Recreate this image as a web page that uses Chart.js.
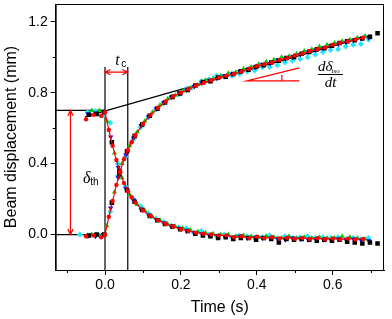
<!DOCTYPE html>
<html>
<head>
<meta charset="utf-8">
<script src="https://cdn.jsdelivr.net/npm/chart.js@4.4.1/dist/chart.umd.min.js"></script>
<style>
html, body { margin: 0; padding: 0; background: #fff; }
#wrap { width: 392px; height: 319px; }
</style>
</head>
<body>
<div id="wrap"><canvas id="myChart"></canvas></div>
<script>
// times (s) of each run, with the rising and falling displacement (mm)
let tBlack = [-0.042, -0.022, -0.002, 0.018, 0.038, 0.058, 0.078, 0.098, 0.118, 0.138, 0.158, 0.178, 0.198, 0.218, 0.238, 0.258, 0.278, 0.298, 0.318, 0.338, 0.358, 0.378, 0.398, 0.418, 0.438, 0.458, 0.478, 0.498, 0.518, 0.538, 0.558, 0.578, 0.598, 0.618, 0.638, 0.658, 0.678, 0.698, 0.718];
let riseBlack = [-0.005, 0.0, 0.0, 0.18, 0.34, 0.47, 0.555, 0.62, 0.67, 0.71, 0.745, 0.775, 0.795, 0.815, 0.84, 0.86, 0.865, 0.885, 0.89, 0.905, 0.92, 0.93, 0.945, 0.955, 0.97, 0.98, 0.995, 1.0, 1.02, 1.03, 1.045, 1.05, 1.065, 1.08, 1.09, 1.095, 1.105, 1.115, 1.135];
let fallBlack = [0.675, 0.68, 0.69, 0.52, 0.36, 0.25, 0.185, 0.14, 0.105, 0.08, 0.06, 0.045, 0.03, 0.02, 0.005, -0.005, -0.01, -0.02, -0.015, -0.025, -0.02, -0.02, -0.03, -0.02, -0.025, -0.045, -0.025, -0.03, -0.025, -0.03, -0.035, -0.03, -0.035, -0.03, -0.04, -0.045, -0.05, -0.045, -0.05];

let tRed = [-0.05, -0.03, -0.01, 0.0, 0.01, 0.02, 0.03, 0.04, 0.05, 0.06, 0.07, 0.08, 0.10, 0.12, 0.14, 0.16, 0.18, 0.20, 0.22, 0.24, 0.26, 0.28, 0.30, 0.32, 0.34, 0.36, 0.38, 0.40, 0.42, 0.44, 0.46, 0.48, 0.50, 0.52, 0.54, 0.56, 0.58, 0.60, 0.62, 0.64, 0.66, 0.68];
let riseRed = [-0.01, -0.005, -0.015, 0.0, 0.10, 0.19, 0.28, 0.355, 0.425, 0.475, 0.52, 0.56, 0.625, 0.675, 0.715, 0.75, 0.78, 0.80, 0.82, 0.84, 0.855, 0.87, 0.885, 0.895, 0.905, 0.92, 0.935, 0.95, 0.96, 0.97, 0.985, 0.995, 1.01, 1.02, 1.035, 1.045, 1.055, 1.07, 1.08, 1.09, 1.10, 1.11];
let fallRed = [0.65, 0.675, 0.67, 0.69, 0.59, 0.50, 0.42, 0.35, 0.29, 0.245, 0.21, 0.18, 0.135, 0.105, 0.08, 0.06, 0.045, 0.03, 0.02, 0.01, 0.005, 0.0, -0.005, -0.005, -0.015, -0.01, -0.02, -0.012, -0.02, -0.015, -0.022, -0.018, -0.024, -0.019, -0.025, -0.02, -0.026, -0.022, -0.027, -0.023, -0.028, -0.025];

let tBlue = [-0.045, -0.025, -0.005, 0.015, 0.035, 0.055, 0.075, 0.095, 0.115, 0.135, 0.155, 0.175, 0.195, 0.215, 0.235, 0.255, 0.275, 0.295, 0.315, 0.335, 0.355, 0.375, 0.395, 0.415, 0.435, 0.455, 0.475, 0.495, 0.515, 0.535, 0.555, 0.575, 0.595, 0.615, 0.635, 0.655, 0.675, 0.695];
let riseBlue = [-0.008, -0.01, 0.0, 0.15, 0.32, 0.45, 0.545, 0.615, 0.665, 0.71, 0.745, 0.775, 0.80, 0.815, 0.835, 0.855, 0.87, 0.88, 0.895, 0.905, 0.92, 0.93, 0.945, 0.96, 0.965, 0.985, 0.99, 1.005, 1.015, 1.03, 1.04, 1.05, 1.065, 1.075, 1.085, 1.095, 1.105, 1.11];
let fallBlue = [0.68, 0.685, 0.695, 0.55, 0.38, 0.26, 0.195, 0.14, 0.11, 0.085, 0.065, 0.045, 0.035, 0.02, 0.01, 0.005, -0.005, -0.005, -0.01, -0.015, -0.01, -0.02, -0.015, -0.02, -0.02, -0.025, -0.03, -0.02, -0.025, -0.03, -0.025, -0.03, -0.03, -0.025, -0.03, -0.025, -0.03, -0.035];

let tGreen = [-0.035, -0.015, 0.005, 0.025, 0.045, 0.065, 0.085, 0.105, 0.125, 0.145, 0.165, 0.185, 0.205, 0.225, 0.245, 0.265, 0.285, 0.305, 0.325, 0.345, 0.365, 0.385, 0.405, 0.425, 0.445, 0.465, 0.485, 0.505, 0.525, 0.545, 0.565, 0.585, 0.605, 0.625, 0.645, 0.665, 0.685];
let riseGreen = [0.0, -0.005, 0.05, 0.24, 0.40, 0.50, 0.58, 0.64, 0.69, 0.73, 0.765, 0.785, 0.81, 0.825, 0.845, 0.87, 0.88, 0.895, 0.91, 0.915, 0.935, 0.945, 0.96, 0.975, 0.985, 1.0, 1.005, 1.02, 1.035, 1.045, 1.06, 1.07, 1.08, 1.09, 1.10, 1.11, 1.12];
let fallGreen = [0.70, 0.70, 0.64, 0.46, 0.32, 0.225, 0.17, 0.135, 0.10, 0.08, 0.06, 0.045, 0.035, 0.025, 0.015, 0.01, 0.005, 0.0, 0.0, -0.01, -0.005, -0.01, -0.015, -0.01, -0.015, -0.02, -0.01, -0.02, -0.015, -0.02, -0.015, -0.02, -0.02, -0.01, -0.015, -0.02, -0.025];

let tCyan = [-0.066, -0.046, -0.026, -0.006, 0.014, 0.034, 0.054, 0.074, 0.094, 0.114, 0.134, 0.154, 0.174, 0.194, 0.214, 0.234, 0.254, 0.274, 0.294, 0.314, 0.334, 0.354, 0.374, 0.394, 0.414, 0.434, 0.454, 0.474, 0.494, 0.514, 0.534, 0.554, 0.574, 0.594, 0.614, 0.634, 0.654, 0.674, 0.694];
let riseCyan = [0.0, -0.005, -0.005, 0.0, 0.13, 0.33, 0.44, 0.535, 0.605, 0.66, 0.705, 0.74, 0.775, 0.79, 0.82, 0.835, 0.865, 0.875, 0.895, 0.89, 0.895, 0.905, 0.92, 0.925, 0.945, 0.945, 0.955, 0.97, 0.98, 0.99, 1.0, 1.015, 1.03, 1.04, 1.045, 1.06, 1.07, 1.075, 1.1];
let fallCyan = [null, 0.69, 0.695, 0.67, 0.63, 0.40, 0.27, 0.20, 0.16, 0.12, 0.09, 0.07, 0.05, 0.04, 0.035, 0.01, 0.02, 0.0, -0.01, 0.0, -0.015, -0.005, -0.01, -0.02, -0.015, -0.005, -0.02, -0.01, -0.02, -0.015, -0.01, -0.02, -0.015, -0.02, -0.015, -0.025, -0.02, -0.03, -0.02];

let xTicks = [0, 0.2, 0.4, 0.6];
let xMinor = [-0.1, 0.1, 0.3, 0.5, 0.7];
let yTicks = [0, 0.4, 0.8, 1.2];
let yMinor = [0.2, 0.6, 1.0];

// construction lines, in data units
let tangentLine = [[-0.052, 0.665], [0.70, 1.123]];
let levelLines = [[[-0.2, 0.70], [0, 0.70]], [[-0.2, 0], [0, 0]]];
let tcTimes = [0, 0.06];
let tcTop = 0.945;
let tcArrow = [[0, 0.916], [0.06, 0.916]];
let thArrow = [[-0.091, 0.70], [-0.091, 0]];
let slopeTri = [[0.3735, 0.866], [0.512, 0.866], [0.512, 0.94]];
let slopeMark = [[0.466, 0.866], [0.466, 0.90]];

function pts(t, y) {
    let out = [];
    for (let i = 0; i < t.length; i++) {
        if (y[i] !== null) out.push({ x: t[i], y: y[i] });
    }
    return out;
}

function marks(data, color, style, r, rot) {
    return {
        data: data,
        showLine: false,
        pointStyle: style,
        pointRadius: r,
        pointRotation: rot || 0,
        pointBackgroundColor: color,
        pointBorderColor: color,
        pointBorderWidth: 0
    };
}

function redLine(data) {
    let d = marks(data, '#ff0000', 'circle', 2.2);
    d.showLine = true;
    d.borderColor = '#ff0000';
    d.borderWidth = 1.2;
    d.segment = { borderColor: c => c.p0.parsed.x < 0 ? 'rgba(0,0,0,0)' : '#ff0000' };
    return d;
}

let green = '#00cc00';
let cyan = '#22e6ff';

let annotations = {
    id: 'annotations',
    beforeDatasetsDraw(chart) {
        let ctx = chart.ctx, xs = chart.scales.x, ys = chart.scales.y, a = chart.chartArea;
        let X = v => xs.getPixelForValue(v), Y = v => ys.getPixelForValue(v);
        ctx.save();
        ctx.beginPath();
        ctx.rect(a.left, a.top, a.right - a.left, a.bottom - a.top);
        ctx.clip();
        ctx.strokeStyle = '#000';
        ctx.lineWidth = 1.2;
        ctx.beginPath();
        ctx.moveTo(X(tangentLine[0][0]), Y(tangentLine[0][1]));
        ctx.lineTo(X(tangentLine[1][0]), Y(tangentLine[1][1]));
        levelLines.forEach(l => {
            ctx.moveTo(X(l[0][0]), Y(l[0][1]));
            ctx.lineTo(X(l[1][0]), Y(l[1][1]));
        });
        tcTimes.forEach(t => {
            ctx.moveTo(X(t), Y(tcTop));
            ctx.lineTo(X(t), a.bottom);
        });
        ctx.stroke();
        ctx.restore();
    },
    afterDatasetsDraw(chart) {
        let ctx = chart.ctx, xs = chart.scales.x, ys = chart.scales.y, a = chart.chartArea;
        let X = v => xs.getPixelForValue(v), Y = v => ys.getPixelForValue(v);
        ctx.save();
        // frame
        ctx.strokeStyle = '#000';
        ctx.lineWidth = 1;
        ctx.strokeRect(a.left + 0.5, a.top + 0.5, a.right - a.left - 1, a.bottom - a.top);
        // minor ticks
        ctx.beginPath();
        xMinor.forEach(v => { ctx.moveTo(Math.round(X(v)) + 0.5, a.bottom); ctx.lineTo(Math.round(X(v)) + 0.5, a.bottom + 3); });
        yMinor.forEach(v => { ctx.moveTo(a.left, Math.round(Y(v)) + 0.5); ctx.lineTo(a.left - 3, Math.round(Y(v)) + 0.5); });
        ctx.stroke();

        // red double arrows
        ctx.strokeStyle = '#ff0000';
        ctx.lineWidth = 1.2;
        function arrow(p, q) {
            let x1 = X(p[0]), y1 = Y(p[1]), x2 = X(q[0]), y2 = Y(q[1]);
            ctx.beginPath();
            ctx.moveTo(x1, y1); ctx.lineTo(x2, y2);
            let ang = Math.atan2(y2 - y1, x2 - x1), L = 6, w = 0.45;
            [[x1, y1, ang], [x2, y2, ang + Math.PI]].forEach(h => {
                ctx.moveTo(h[0] + L * Math.cos(h[2] - w), h[1] + L * Math.sin(h[2] - w));
                ctx.lineTo(h[0], h[1]);
                ctx.lineTo(h[0] + L * Math.cos(h[2] + w), h[1] + L * Math.sin(h[2] + w));
            });
            ctx.stroke();
        }
        arrow(tcArrow[0], tcArrow[1]);
        arrow(thArrow[0], thArrow[1]);

        // slope triangle
        ctx.beginPath();
        ctx.moveTo(X(slopeTri[1][0]), Y(slopeTri[1][1]));
        ctx.lineTo(X(slopeTri[0][0]), Y(slopeTri[0][1]));
        ctx.lineTo(X(slopeTri[2][0]), Y(slopeTri[2][1]));
        ctx.moveTo(X(slopeMark[0][0]), Y(slopeMark[0][1]));
        ctx.lineTo(X(slopeMark[1][0]), Y(slopeMark[1][1]));
        ctx.stroke();

        // labels
        ctx.fillStyle = '#000';
        ctx.textBaseline = 'alphabetic';
        ctx.textAlign = 'left';
        ctx.font = 'italic 16px "Liberation Serif"';
        ctx.fillText('t', X(0.027), Y(0.955));
        ctx.font = '10px "Liberation Sans"';
        ctx.fillText('c', X(0.043), Y(0.944));

        ctx.font = 'italic 16px "Liberation Serif"';
        ctx.fillText('\u03b4', X(-0.058), Y(0.29));
        ctx.font = '10px "Liberation Sans"';
        ctx.fillText('th', X(-0.039), Y(0.28));

        ctx.font = 'italic 15px "Liberation Serif"';
        ctx.fillText('d\u03b4', X(0.561), Y(0.922));
        ctx.font = '7px "Liberation Serif"';
        ctx.fillText('iso', X(0.597), Y(0.91));
        ctx.font = 'italic 15px "Liberation Serif"';
        ctx.textAlign = 'center';
        ctx.fillText('dt', X(0.594), Y(0.832));
        ctx.strokeStyle = '#000';
        ctx.lineWidth = 1;
        ctx.beginPath();
        ctx.moveTo(X(0.561), Math.round(Y(0.907)) + 0.5);
        ctx.lineTo(X(0.627), Math.round(Y(0.907)) + 0.5);
        ctx.stroke();
        ctx.restore();
    }
};

let tickFont = { family: '"Liberation Sans", Arial, sans-serif', size: 14 };
let titleFont = { family: '"Liberation Sans", Arial, sans-serif', size: 16 };

let myChart1 = document.getElementById("myChart").getContext('2d');

let chart1 = new Chart(myChart1, {
    type: 'scatter',
    data: {
        datasets: [
            redLine(pts(tRed, riseRed)),
            redLine(pts(tRed, fallRed)),
            marks(pts(tBlack, riseBlack), '#000000', 'rect', 3.2),
            marks(pts(tBlack, fallBlack), '#000000', 'rect', 3.2),
            marks(pts(tBlue, riseBlue), '#0000ff', 'triangle', 3, 180),
            marks(pts(tBlue, fallBlue), '#0000ff', 'triangle', 3, 180),
            marks(pts(tGreen, riseGreen), green, 'triangle', 3),
            marks(pts(tGreen, fallGreen), green, 'triangle', 3),
            marks(pts(tCyan, riseCyan), cyan, 'rectRot', 3),
            marks(pts(tCyan, fallCyan), cyan, 'rectRot', 3)
        ]
    },
    options: {
        responsive: true,
        maintainAspectRatio: false,
        animation: false,
        layout: { padding: { left: 2, right: 8, top: 2, bottom: 2 } },
        plugins: {
            legend: { display: false },
            tooltip: { enabled: false }
        },
        scales: {
            x: {
                type: 'linear',
                min: -0.13,
                max: 0.735,
                afterBuildTicks: s => { s.ticks = xTicks.map(v => ({ value: v })); },
                afterFit: s => { s.paddingLeft = 0; s.paddingRight = 0; },
                border: { display: true, color: '#000', width: 1 },
                grid: { drawOnChartArea: false, drawTicks: true, tickLength: 5, color: '#000' },
                ticks: { font: tickFont, color: '#000', padding: 2, maxRotation: 0, callback: v => v.toFixed(1) },
                title: { display: true, text: 'Time (s)', font: titleFont, color: '#000', padding: { top: 2, bottom: 0 } }
            },
            y: {
                type: 'linear',
                min: -0.2,
                max: 1.3,
                afterBuildTicks: s => { s.ticks = yTicks.map(v => ({ value: v })); },
                afterFit: s => { s.paddingTop = 0; s.paddingBottom = 0; },
                border: { display: true, color: '#000', width: 1 },
                grid: { drawOnChartArea: false, drawTicks: true, tickLength: 5, color: '#000' },
                ticks: { font: tickFont, color: '#000', padding: 3, callback: v => v.toFixed(1) },
                title: { display: true, text: 'Beam displacement (mm)', font: titleFont, color: '#000', padding: { top: 0, bottom: 4 } }
            }
        }
    },
    plugins: [annotations]
});
</script>
</body>
</html>
